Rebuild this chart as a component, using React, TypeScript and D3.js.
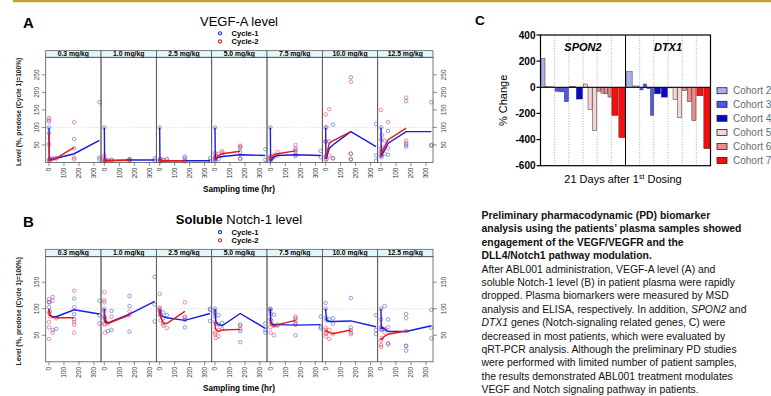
import React from "react";
import * as d3 from "d3";

type P = [number, number];

// ---- panels A / B (trellis) ----
const doses = ["0.3 mg/kg", "1.0 mg/kg", "2.5 mg/kg", "5.0 mg/kg", "7.5 mg/kg", "10.0 mg/kg", "12.5 mg/kg"];
const timeTicks = [0, 100, 200, 300];
const vegfTicks = [50, 100, 150, 200, 250];
const notchTicks = [50, 100, 150];

const vegfC1Pts: P[][] = [
  [[0,100],[0,117],[2,8],[6,10],[24,12],[48,12],[168,67],[168,40],[336,172],[336,14],[336,9]],
  [[0,100],[2,5],[6,4],[24,6],[48,8],[168,10],[168,6],[336,12],[336,6]],
  [[0,100],[2,5],[6,3],[24,8],[48,10],[168,17],[168,12],[336,12],[336,5]],
  [[0,100],[0,5],[2,8],[6,15],[24,10],[48,20],[168,45],[168,30],[168,12],[336,38],[336,8]],
  [[0,100],[2,5],[6,10],[24,15],[48,20],[168,40],[168,30],[168,18],[336,33],[336,15]],
  [[0,100],[0,60],[2,15],[6,10],[24,60],[48,108],[48,12],[168,243],[168,25],[168,10],[336,110],[336,20],[336,5]],
  [[0,100],[0,30],[2,15],[6,20],[24,62],[24,25],[48,90],[48,22],[168,175],[168,50],[168,45],[336,172],[336,50],[336,48]],
];
const vegfC2Pts: P[][] = [
  [[0,127],[0,122],[0,52],[0,84],[2,5],[6,8],[24,10],[48,12],[168,115],[168,14],[168,9]],
  [[0,20],[0,12],[2,5],[6,8],[24,6],[48,5],[168,8],[168,5]],
  [[0,8],[2,5],[6,10],[24,6],[48,5],[168,6],[168,3]],
  [[0,27],[0,15],[2,12],[6,20],[24,25],[48,32],[48,28],[168,48],[168,42],[168,10]],
  [[0,18],[0,12],[2,10],[6,15],[24,22],[48,30],[168,50],[168,35],[168,22]],
  [[0,137],[0,60],[0,18],[2,8],[6,100],[24,152],[24,20],[48,12],[168,230],[168,25],[168,8]],
  [[0,150],[0,40],[0,20],[2,65],[6,78],[24,45],[48,115],[48,40],[168,185],[168,62],[168,55]],
];
const vegfC1Line: P[][] = [
  [[0,100],[2,8],[24,10],[48,12],[168,25],[336,63]],
  [[0,100],[2,5],[24,6],[168,7],[336,7]],
  [[0,100],[2,5],[24,5],[168,5],[336,5]],
  [[0,100],[2,8],[24,15],[48,17],[168,22],[336,20]],
  [[0,100],[2,5],[24,15],[48,20],[168,22],[336,20]],
  [[0,100],[2,10],[24,40],[48,50],[168,88],[336,45]],
  [[0,100],[2,20],[24,35],[48,55],[168,88],[336,88]],
];
const vegfC2Line: P[][] = [
  [[0,84],[2,6],[24,8],[48,12],[168,43]],
  [[0,12],[2,5],[24,5],[168,6]],
  [[0,6],[24,5],[168,5]],
  [[0,12],[2,8],[24,20],[48,25],[168,32]],
  [[0,15],[2,10],[24,22],[48,25],[168,33]],
  [[0,25],[2,15],[24,55],[48,62],[168,88]],
  [[0,35],[2,25],[24,45],[48,65],[168,98]],
];

const notchC1Pts: P[][] = [
  [[0,113],[2,112],[6,95],[24,122],[24,60],[48,62],[168,119],[168,103],[168,90],[168,80],[336,115],[336,88],[336,72]],
  [[0,100],[0,86],[2,83],[6,80],[24,58],[48,96],[48,60],[168,124],[168,105],[168,57],[336,160],[336,108],[336,76]],
  [[0,100],[2,95],[6,90],[24,93],[24,82],[48,88],[168,85],[168,79],[168,65],[336,100],[336,98],[336,77]],
  [[0,100],[0,92],[2,85],[6,72],[24,88],[24,70],[48,73],[168,70],[168,58],[168,37],[336,72],[336,60],[336,55]],
  [[0,100],[0,99],[2,90],[6,78],[24,89],[24,68],[48,70],[168,82],[168,73],[168,50],[336,85],[336,66],[336,63]],
  [[0,111],[0,100],[2,83],[6,78],[24,80],[48,82],[48,72],[168,120],[168,60],[168,55],[336,88],[336,60],[336,52]],
  [[0,100],[2,60],[6,62],[24,105],[24,62],[48,80],[48,33],[168,90],[168,30],[168,21],[336,98],[336,64],[336,44]],
];
const notchC2Pts: P[][] = [
  [[0,118],[0,103],[0,75],[0,65],[0,43],[2,92],[6,85],[24,115],[24,55],[48,82],[168,134],[168,75],[168,70],[168,55]],
  [[0,131],[0,116],[0,112],[0,96],[0,72],[2,70],[6,55],[24,72],[48,85],[168,95],[168,88]],
  [[0,128],[0,102],[0,96],[2,88],[6,78],[24,72],[24,68],[48,64],[168,112],[168,83]],
  [[0,95],[0,75],[0,55],[2,52],[6,45],[24,60],[24,48],[48,62],[168,68],[168,62]],
  [[0,96],[0,80],[0,65],[2,55],[6,72],[24,50],[48,68],[168,85],[168,78],[168,70]],
  [[0,64],[0,60],[0,53],[2,48],[6,55],[24,60],[24,43],[48,52],[168,65],[168,52]],
  [[0,80],[0,65],[0,40],[0,32],[2,28],[6,45],[24,55],[48,65],[48,35],[168,82],[168,58],[168,30]],
];
const notchC1Line: P[][] = [
  [[0,100],[2,95],[6,88],[24,85],[48,85],[168,98],[336,90]],
  [[0,100],[2,85],[6,78],[24,73],[48,76],[168,90],[336,114]],
  [[0,100],[2,95],[6,88],[24,85],[48,83],[168,78],[336,91]],
  [[0,100],[2,88],[6,75],[24,70],[48,68],[168,91],[336,63]],
  [[0,100],[2,80],[6,72],[24,70],[48,70],[168,69],[336,70]],
  [[0,100],[6,78],[24,76],[48,76],[168,77],[336,66]],
  [[0,100],[2,62],[6,65],[24,62],[48,57],[168,57],[336,68]],
];
const notchC2Line: P[][] = [
  [[0,98],[2,88],[24,84],[48,83],[168,83]],
  [[0,95],[2,75],[24,72],[48,75],[168,88]],
  [[0,100],[2,88],[24,73],[48,72],[168,95]],
  [[0,75],[2,62],[24,57],[48,60],[168,61]],
  [[0,75],[2,72],[24,67],[48,70],[168,78]],
  [[0,60],[2,58],[24,55],[48,53],[168,60]],
  [[0,45],[2,42],[24,48],[48,52],[168,58]],
];

// ---- panel C ----
const cohorts = ["Cohort 2", "Cohort 3", "Cohort 4", "Cohort 5", "Cohort 6", "Cohort 7"];
const cohortColors = ["#aab0ec", "#4a5af0", "#0808c8", "#f4d4d4", "#ef8a8a", "#fb0d0d"];
const genes = ["SPON2", "DTX1"];
const spon2: number[][] = [[220, 5, 3], [-30, -35, -110], [5, -90], [25, -170, -330], [-30, -45, -50, -75], [-215, -385]];
const dtx1: number[][] = [[120, 10], [-20, 25, -10, -215], [-50, -75], [-5, -95, -230], [-25, -110, -255], [-65, -470]];
const pctTicks = [400, 200, 0, -200, -400, -600];

const boldLines = [
  "Preliminary pharmacodynamic (PD) biomarker",
  "analysis using the patients\u2019 plasma samples showed",
  "engagement of the VEGF/VEGFR and the",
  "DLL4/Notch1 pathway modulation.",
];
const bodyLines = [
  "After ABL001 administration, VEGF-A level (A) and",
  "soluble Notch-1 level (B) in patient plasma were rapidly",
  "dropped. Plasma biomarkers were measured by MSD",
  "analysis and ELISA, respectively. In addition, *SPON2* and",
  "*DTX1* genes (Notch-signaling related genes, C) were",
  "decreased in most patients, which were evaluated by",
  "qRT-PCR analysis. Although the preliminary PD studies",
  "were performed with limited number of patient samples,",
  "the results demonstrated ABL001 treatment modulates",
  "VEGF and Notch signaling pathway in patients.",
];

const FONT = "Liberation Sans, Arial, sans-serif";
const BLUE_PT = "rgb(60,90,210)";
const RED_PT = "rgb(225,45,85)";

interface TrellisProps {
  letter: string;
  letterY: number;
  title: React.ReactNode;
  titleY: number;
  legendY: [number, number];
  stripTop: number;
  plotTop: number;
  plotBottom: number;
  yMax: number;
  yTicks: number[];
  c1Pts: P[][];
  c2Pts: P[][];
  c1Line: P[][];
  c2Line: P[][];
}

const Trellis = (p: TrellisProps) => {
  const left = 45.7;
  const right = 433;
  const pw = (right - left) / doses.length;
  const y = d3.scaleLinear().domain([0, p.yMax]).range([p.plotBottom, p.plotTop]);
  const line = d3.line<P>();
  const midY = (p.plotTop + p.plotBottom) / 2 + 2;
  return (
    <g fontFamily={FONT}>
      <text x={23} y={p.letterY} fontSize={15} fontWeight="bold">{p.letter}</text>
      <text x={239} y={p.titleY} fontSize={13} textAnchor="middle">{p.title}</text>
      {["Cycle-1", "Cycle-2"].map((s, i) => (
        <g key={s}>
          <circle cx={220} cy={p.legendY[i]} r={1.6} fill="none" stroke={i ? "#e02040" : "#2030d0"} strokeWidth={1.1} />
          <text x={231.5} y={p.legendY[i] + 2.8} fontSize={7.6} fontWeight="bold">{s}</text>
        </g>
      ))}
      {doses.map((d, k) => {
        const x0 = left + k * pw;
        const x = d3.scaleLinear().domain([-22, 347]).range([x0, x0 + pw]);
        const pl = (pts: P[]) => line(pts.map(([t, v]) => [x(t), y(v)] as P)) || "";
        return (
          <g key={d}>
            <rect x={x0} y={p.stripTop} width={pw} height={p.plotTop - p.stripTop} fill="#e2f7fb" stroke="#444" strokeWidth={0.7} />
            <text x={x0 + pw / 2} y={p.plotTop - 1.5} fontSize={6.8} fontWeight="bold" textAnchor="middle">{d}</text>
            <line x1={x0} x2={x0 + pw} y1={y(100)} y2={y(100)} stroke="#bdbdbd" strokeWidth={0.6} strokeDasharray="1,1.5" />
            {p.c1Pts[k].map(([t, v], i) => (
              <circle key={"b" + i} cx={x(t)} cy={y(v)} r={1.8} fill="none" stroke={BLUE_PT} strokeOpacity={0.6} strokeWidth={0.95} />
            ))}
            {p.c2Pts[k].map(([t, v], i) => (
              <circle key={"r" + i} cx={x(t)} cy={y(v)} r={1.8} fill="none" stroke={RED_PT} strokeOpacity={0.55} strokeWidth={0.95} />
            ))}
            <path d={pl(p.c1Line[k])} fill="none" stroke="#1a1ae0" strokeWidth={1.4} />
            <path d={pl(p.c2Line[k])} fill="none" stroke="#e81818" strokeWidth={1.4} />
            <rect x={x0} y={p.plotTop} width={pw} height={p.plotBottom - p.plotTop} fill="none" stroke="#555" strokeWidth={0.8} />
            {timeTicks.map((t) => (
              <g key={t}>
                <line x1={x(t)} x2={x(t)} y1={p.plotBottom} y2={p.plotBottom + 3.5} stroke="#444" strokeWidth={0.6} />
                <text transform={`translate(${x(t) + 2.3},${p.plotBottom + 5})rotate(-90)`} fontSize={6.5} fill="#333" textAnchor="end">{t}</text>
              </g>
            ))}
          </g>
        );
      })}
      {p.yTicks.map((t) => (
        <g key={t}>
          <line x1={left - 4} x2={left} y1={y(t)} y2={y(t)} stroke="#444" strokeWidth={0.6} />
          <text transform={`translate(${38.5},${y(t)})rotate(-90)`} fontSize={6.5} fill="#444" textAnchor="middle">{t}</text>
          <line x1={right} x2={right + 4} y1={y(t)} y2={y(t)} stroke="#444" strokeWidth={0.6} />
          <text transform={`translate(${446},${y(t)})rotate(-90)`} fontSize={6.5} fill="#444" textAnchor="middle">{t}</text>
        </g>
      ))}
      <text transform={`translate(${21},${midY})rotate(-90)`} fontSize={6.6} fontWeight="bold" fill="#222" textAnchor="middle">
        Level (%, predose (Cycle 1)=100%)
      </text>
      <text x={239} y={p.plotBottom + 29} fontSize={8.2} fontWeight="bold" textAnchor="middle">Sampling time (hr)</text>
    </g>
  );
};

const PanelC = () => {
  const left = 540.5;
  const right = 710.5;
  const top = 35;
  const bottom = 165.7;
  const y = d3.scaleLinear().domain([-600, 400]).range([bottom, top]);
  const gx = d3.scaleBand<number>().domain([0, 1]).range([left, right]);
  const series = [spon2, dtx1];
  const legendRows = [90.7, 104.3, 118.3, 132.5, 146.5, 160.5];
  return (
    <g fontFamily={FONT}>
      <text x={475} y={25} fontSize={13.5} fontWeight="bold">C</text>
      {genes.map((g, gi) => {
        const cx = d3.scaleBand<number>().domain(d3.range(cohorts.length)).range([gx(gi)!, gx(gi)! + gx.bandwidth()]);
        return (
          <g key={g}>
            {d3.range(1, cohorts.length).map((c) => (
              <line key={c} x1={cx(c)!} x2={cx(c)!} y1={top} y2={bottom} stroke="#888" strokeWidth={0.7} strokeDasharray="1,1.6" />
            ))}
            {series[gi].map((vals, c) => {
              const bx = d3.scaleBand<number>().domain(d3.range(vals.length)).range([cx(c)!, cx(c)! + cx.bandwidth()]).paddingInner(0.12).paddingOuter(0.08);
              return vals.map((v, i) => (
                <rect key={c + "-" + i} x={bx(i)!} width={bx.bandwidth()} y={Math.min(y(v), y(0))} height={Math.max(0.6, Math.abs(y(v) - y(0)))}
                  fill={cohortColors[c]} stroke="#333" strokeWidth={0.5} />
              ));
            })}
            <text x={gx(gi)! + gx.bandwidth() / 2} y={51} fontSize={11} fontWeight="bold" fontStyle="italic" textAnchor="middle">{g}</text>
          </g>
        );
      })}
      <line x1={left} x2={right} y1={y(0)} y2={y(0)} stroke="#000" strokeWidth={1} />
      <line x1={gx(1)!} x2={gx(1)!} y1={top} y2={bottom} stroke="#000" strokeWidth={1} />
      <rect x={left} y={top} width={right - left} height={bottom - top} fill="none" stroke="#000" strokeWidth={1.2} />
      {pctTicks.map((t) => (
        <g key={t}>
          <line x1={left - 4} x2={left} y1={y(t)} y2={y(t)} stroke="#000" strokeWidth={1.2} />
          <text x={535.5} y={y(t) + 3.6} fontSize={10} fontWeight="bold" textAnchor="end">{t}</text>
        </g>
      ))}
      <text transform={`translate(${507},${(top + bottom) / 2})rotate(-90)`} fontSize={11} textAnchor="middle">% Change</text>
      <text x={623} y={183} fontSize={11} textAnchor="middle">
        21 Days after 1<tspan fontSize={7} dy={-4}>st</tspan><tspan dy={4}> Dosing</tspan>
      </text>
      {cohorts.map((c, i) => (
        <g key={c}>
          <rect x={717} y={legendRows[i] - 3} width={10} height={6} fill={cohortColors[i]} stroke="#222" strokeWidth={0.8} />
          <text x={733} y={legendRows[i] + 3.6} fontSize={10} fill="#6a6a6a">{c}</text>
        </g>
      ))}
    </g>
  );
};

const Summary = () => {
  const x0 = 481.5;
  const y0 = 219;
  const lh = 13.4;
  return (
    <g fontFamily={FONT} fontSize={10.4} fill="#111">
      {boldLines.map((l, i) => (
        <text key={"b" + i} x={x0} y={y0 + i * lh} fontWeight="bold">{l}</text>
      ))}
      {bodyLines.map((l, i) => (
        <text key={"n" + i} x={x0} y={y0 + (i + boldLines.length) * lh}>
          {l.split("*").map((s, j) => (
            <tspan key={j} fontStyle={j % 2 ? "italic" : "normal"}>{s}</tspan>
          ))}
        </text>
      ))}
    </g>
  );
};

export default function App() {
  return (
    <svg width={771} height={396} viewBox="0 0 771 396" style={{ position: "absolute", left: 0, top: 0, background: "#fff" }}>
      <rect x={13} y={0} width={758} height={2.2} fill="#c9a02a" />
      <Trellis
        letter="A" letterY={28.3} title="VEGF-A level" titleY={26} legendY={[33.3, 41.5]}
        stripTop={50.7} plotTop={57.3} plotBottom={162.5} yMax={300} yTicks={vegfTicks}
        c1Pts={vegfC1Pts} c2Pts={vegfC2Pts} c1Line={vegfC1Line} c2Line={vegfC2Line}
      />
      <Trellis
        letter="B" letterY={226.5}
        title={<><tspan fontWeight="bold">Soluble</tspan> Notch-1 level</>}
        titleY={224} legendY={[232.2, 240.4]}
        stripTop={249.3} plotTop={256.7} plotBottom={361.8} yMax={198} yTicks={notchTicks}
        c1Pts={notchC1Pts} c2Pts={notchC2Pts} c1Line={notchC1Line} c2Line={notchC2Line}
      />
      <PanelC />
      <Summary />
    </svg>
  );
}
